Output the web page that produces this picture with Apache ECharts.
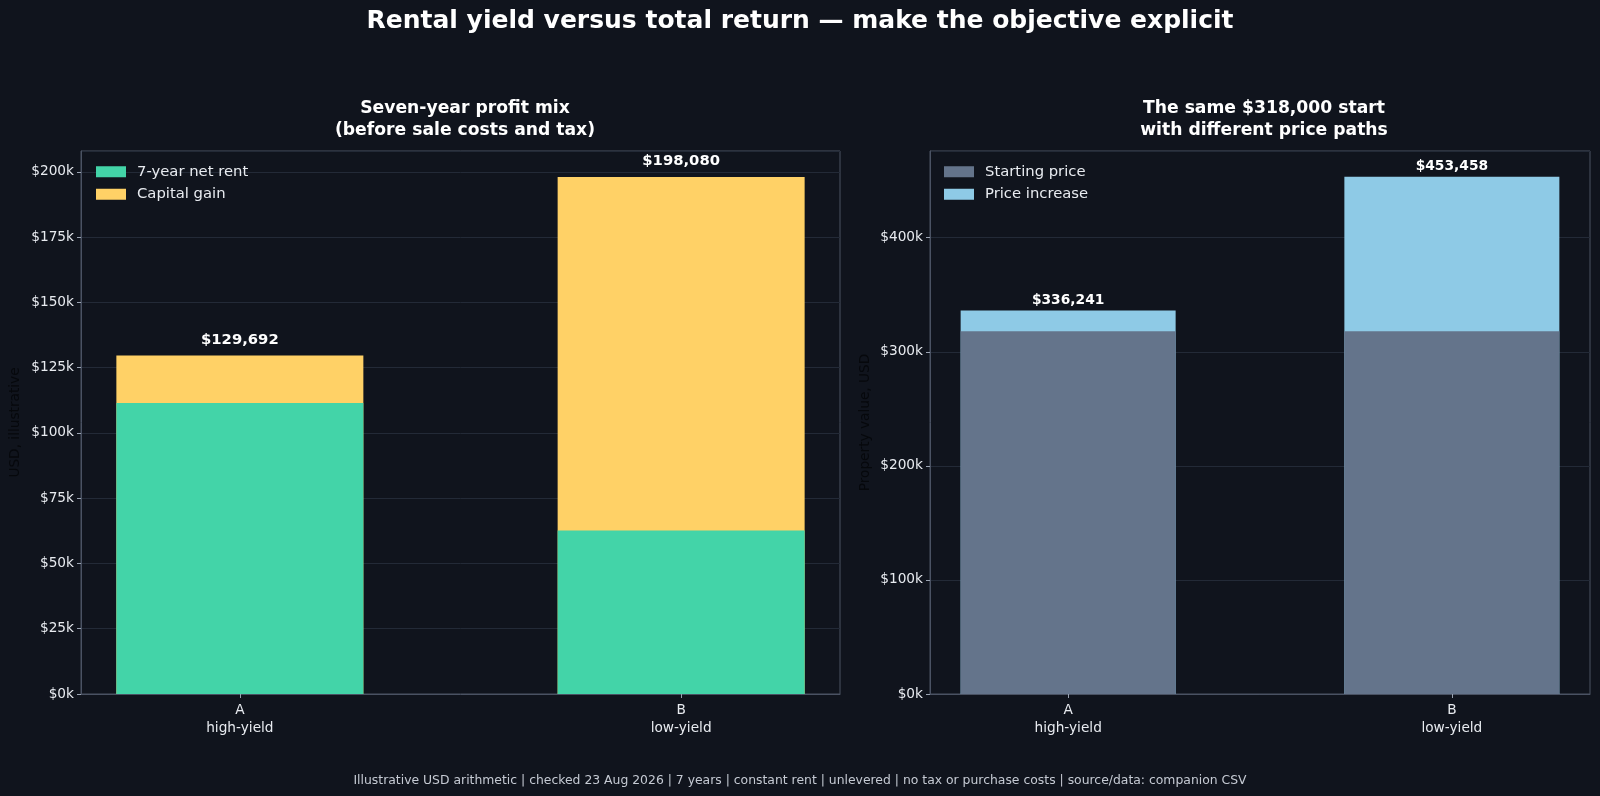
<!DOCTYPE html>
<html>
<head>
    <meta charset="utf-8">
    <title>Rental yield versus total return</title>
    <script src="https://cdn.jsdelivr.net/npm/echarts@6/dist/echarts.min.js"></script>
    <style>
        html, body { margin: 0; padding: 0; background: #10141d; }
        #main { width: 1600px; height: 796px; }
    </style>
</head>
<body>
<div id="main"></div>
<script type="text/javascript">
    // values
    var xPos = [0, 1];
    var categories = ['A\nhigh-yield', 'B\nlow-yield'];
    var netRent = [111451, 62622];          // 7-year net rent
    var capitalGain = [18241, 135458];      // capital gain
    var startPrice = [318000, 318000];      // starting price
    var priceIncrease = [18241, 135458];    // price increase

    var FONT = 'DejaVu Sans';
    var TXT = '#e8ebf0';
    var GRID_LINE = '#232a37';
    var FRAME = '#4a5263';

    // bottom segment drawn over the full-height bar, so the upper part
    // shows the second component (same look as a stacked bar)
    function sums(a, b) {
        var out = [];
        for (var i = 0; i < a.length; i++) out.push(a[i] + b[i]);
        return out;
    }
    function pairs(vals) {
        var out = [];
        for (var i = 0; i < vals.length; i++) out.push([xPos[i], vals[i]]);
        return out;
    }
    function money(v) {
        return '$' + Math.round(v).toLocaleString('en-US');
    }
    function kfmt(v) { return '$' + Math.round(v / 1000) + 'k'; }

    var totalProfit = sums(netRent, capitalGain);
    var endPrice = sums(startPrice, priceIncrease);

    function xAxisFor(idx) {
        return {
            type: 'value', gridIndex: idx, min: -0.36, max: 1.36,
            splitLine: { show: false },
            axisLine: { show: true, onZero: false, lineStyle: { color: FRAME } },
            axisTick: { show: true, customValues: xPos, length: 4, lineStyle: { color: '#9aa3b2' } },
            axisLabel: {
                customValues: xPos, color: TXT, fontSize: 13.7, fontFamily: FONT,
                lineHeight: 17.5, margin: 8,
                formatter: function (v) { return categories[Math.round(v)]; }
            }
        };
    }
    function yAxisFor(idx, max, interval, name, gap) {
        return {
            type: 'value', gridIndex: idx, min: 0, max: max, interval: interval,
            name: name, nameLocation: 'middle', nameGap: gap,
            nameTextStyle: { color: '#06080c', fontSize: 13.7, fontFamily: FONT },
            axisLine: { show: true, onZero: false, lineStyle: { color: FRAME } },
            axisTick: { show: true, length: 4, lineStyle: { color: '#9aa3b2' } },
            splitLine: { show: true, lineStyle: { color: GRID_LINE, width: 1 } },
            axisLabel: { color: TXT, fontSize: 13.7, fontFamily: FONT, margin: 7,
                showMaxLabel: false, formatter: kfmt }
        };
    }

    var chart = echarts.init(document.getElementById('main'));
    chart.setOption({
        backgroundColor: '#10141d',
        animation: false,
        textStyle: { fontFamily: FONT },
        title: [
            { text: 'Rental yield versus total return — make the objective explicit',
              left: 'center', top: 4,
              textStyle: { color: '#ffffff', fontSize: 25, fontWeight: 'bold', fontFamily: FONT } },
            { text: 'Seven-year profit mix\n(before sale costs and tax)',
              left: 460, top: 93, textAlign: 'center',
              textStyle: { color: '#ffffff', fontSize: 17.2, fontWeight: 'bold', lineHeight: 21.5, fontFamily: FONT } },
            { text: 'The same $318,000 start\nwith different price paths',
              left: 1259, top: 93, textAlign: 'center',
              textStyle: { color: '#ffffff', fontSize: 17.2, fontWeight: 'bold', lineHeight: 21.5, fontFamily: FONT } },
            { text: 'Illustrative USD arithmetic | checked 23 Aug 2026 | 7 years | constant rent | unlevered | no tax or purchase costs | source/data: companion CSV',
              left: 'center', top: 770,
              textStyle: { color: '#c5cad3', fontSize: 12.4, fontWeight: 'normal', fontFamily: FONT } }
        ],
        legend: [
            { left: 91, top: 158, orient: 'vertical', itemWidth: 30, itemHeight: 11, itemGap: 5,
              icon: 'rect',
              data: ['7-year net rent', 'Capital gain'],
              textStyle: { color: TXT, fontSize: 14.8, fontFamily: FONT, padding: [0, 0, 0, 6], lineHeight: 17.5 } },
            { left: 939, top: 158, orient: 'vertical', itemWidth: 30, itemHeight: 11, itemGap: 5,
              icon: 'rect',
              data: ['Starting price', 'Price increase'],
              textStyle: { color: TXT, fontSize: 14.8, fontFamily: FONT, padding: [0, 0, 0, 6], lineHeight: 17.5 } }
        ],
        grid: [
            { left: 81, top: 151, right: 760, bottom: 102, show: true, borderColor: FRAME, borderWidth: 1, backgroundColor: 'transparent' },
            { left: 930, top: 151, right: 10, bottom: 102, show: true, borderColor: FRAME, borderWidth: 1, backgroundColor: 'transparent' }
        ],
        xAxis: [xAxisFor(0), xAxisFor(1)],
        yAxis: [
            yAxisFor(0, 208000, 25000, 'USD, illustrative', 59),
            yAxisFor(1, 476000, 100000, 'Property value, USD', 58)
        ],
        series: [
            { name: 'Capital gain', type: 'bar', xAxisIndex: 0, yAxisIndex: 0, z: 2,
              barWidth: 247, barGap: '-100%', itemStyle: { color: '#ffd166' }, data: pairs(totalProfit),
              label: { show: true, position: 'top', distance: 8, color: '#ffffff', fontSize: 14.8,
                       fontWeight: 'bold', fontFamily: FONT,
                       formatter: function (p) { return money(p.value[1]); } } },
            { name: '7-year net rent', type: 'bar', xAxisIndex: 0, yAxisIndex: 0, z: 3,
              barWidth: 247, barGap: '-100%', itemStyle: { color: '#43d4a8' }, data: pairs(netRent) },
            { name: 'Price increase', type: 'bar', xAxisIndex: 1, yAxisIndex: 1, z: 2,
              barWidth: 215, barGap: '-100%', itemStyle: { color: '#8ecae6' }, data: pairs(endPrice),
              label: { show: true, position: 'top', distance: 3, color: '#ffffff', fontSize: 13.8,
                       fontWeight: 'bold', fontFamily: FONT,
                       formatter: function (p) { return money(p.value[1]); } } },
            { name: 'Starting price', type: 'bar', xAxisIndex: 1, yAxisIndex: 1, z: 3,
              barWidth: 215, barGap: '-100%', itemStyle: { color: '#64748b' }, data: pairs(startPrice) }
        ]
    });
</script>
</body>
</html>
